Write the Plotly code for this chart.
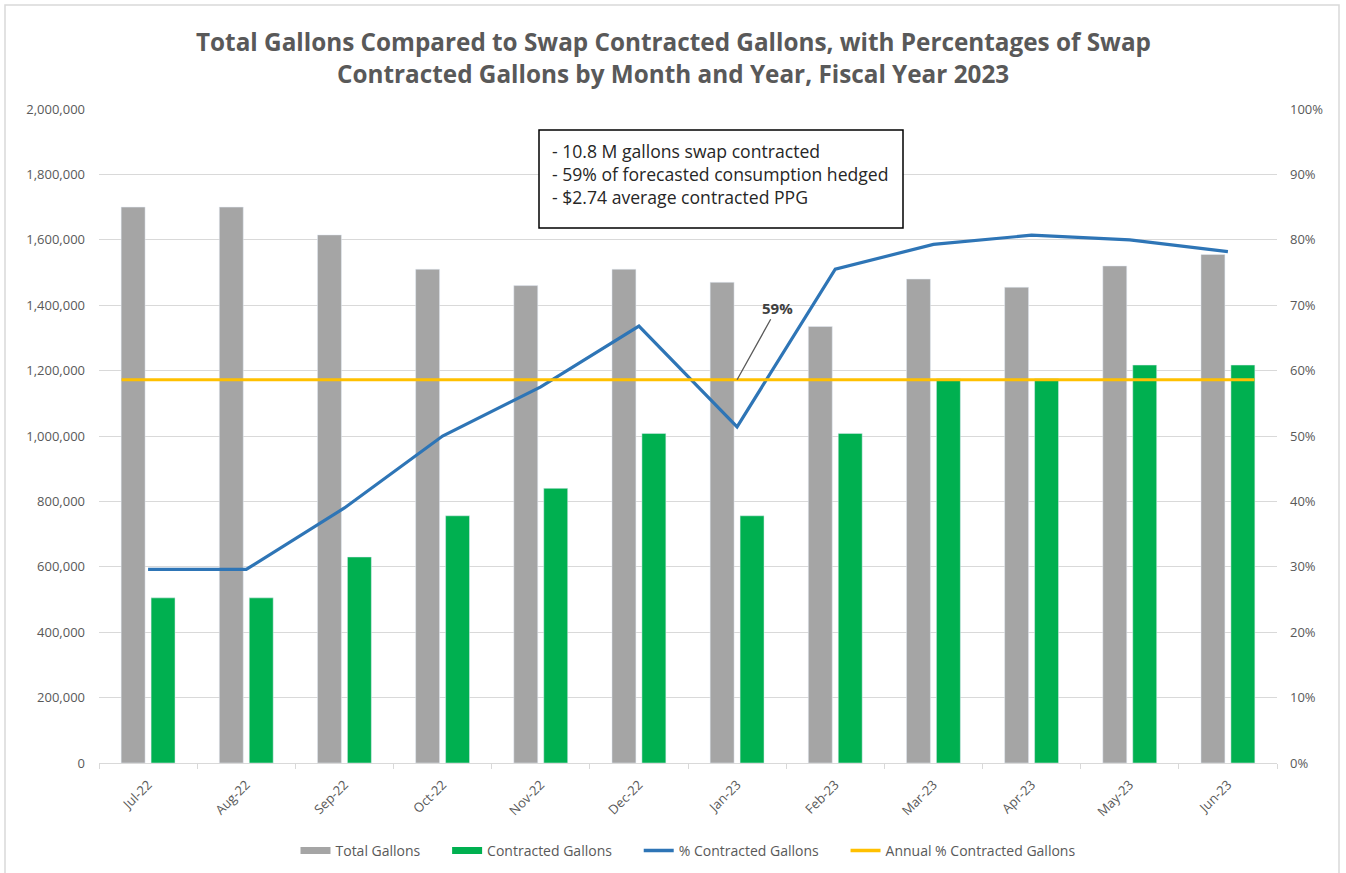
import plotly.graph_objects as go

months = ["Jul-22", "Aug-22", "Sep-22", "Oct-22", "Nov-22", "Dec-22",
          "Jan-23", "Feb-23", "Mar-23", "Apr-23", "May-23", "Jun-23"]
total_gallons = [1700000, 1700000, 1615000, 1510000, 1460000, 1510000,
                 1470000, 1335000, 1480000, 1455000, 1520000, 1555000]
contracted_gallons = [505000, 505000, 630000, 756000, 840000, 1008000,
                      756000, 1008000, 1175000, 1175000, 1217000, 1217000]
pct_contracted = [0.296, 0.296, 0.39, 0.50, 0.575, 0.668,
                  0.514, 0.755, 0.793, 0.807, 0.80, 0.782]
annual_pct = 0.586
annual_label = "59%"
box_lines = ["- 10.8 M gallons swap contracted",
             "- 59% of forecasted consumption hedged",
             "- $2.74 average contracted PPG"]
title_lines = ["Total Gallons Compared to Swap Contracted Gallons, with Percentages of Swap",
               "Contracted Gallons by Month and Year, Fiscal Year 2023"]
legend_names = ["Total Gallons", "Contracted Gallons", "% Contracted Gallons",
                "Annual % Contracted Gallons"]

FONT = "Open Sans"
TXT = "#595959"
GRID = "#d9d9d9"
GRAY = "#a5a5a5"
GREEN = "#00b050"
BLUE = "#2e75b6"
YELLOW = "#ffc000"

PL, PR, PT, PB = 99, 1277, 109, 763
PW, PH = PR - PL, PB - PT


def px(x):
    return (x - PL) / PW


def py(y):
    return (PB - y) / PH


fig = go.Figure()
fig.add_trace(go.Bar(x=months, y=total_gallons, name=legend_names[0],
                     marker_color=GRAY, yaxis="y", showlegend=False))
fig.add_trace(go.Bar(x=months, y=contracted_gallons, name=legend_names[1],
                     marker_color=GREEN, yaxis="y", showlegend=False))
fig.add_trace(go.Scatter(x=months, y=pct_contracted, name=legend_names[2],
                         mode="lines", line=dict(color=BLUE, width=3.2), yaxis="y2",
                         showlegend=False))
ext = 0.27
fig.add_trace(go.Scatter(x=[0 - ext, len(months) - 1 + ext], y=[annual_pct, annual_pct],
                         name=legend_names[3], mode="lines",
                         line=dict(color=YELLOW, width=3.2), xaxis="x3", yaxis="y2",
                         showlegend=False))

# legend entries (Excel-like wide swatches)
pad = "\u00a0" * 6
for i, (name, color, w) in enumerate(zip(legend_names, [GRAY, GREEN, BLUE, YELLOW],
                                         [7, 7, 3.5, 3.5])):
    fig.add_trace(go.Scatter(x=[None], y=[None], mode="lines",
                             name=name + (pad if i < len(legend_names) - 1 else ""),
                             line=dict(color=color, width=w), xaxis="x3", yaxis="y2"))

fig.update_layout(
    width=1346, height=873,
    margin=dict(l=PL, r=1346 - PR, t=PT, b=873 - PB, autoexpand=False),
    paper_bgcolor="white", plot_bgcolor="white",
    font=dict(family=FONT, color=TXT, size=13),
    barmode="group", bargap=0.39, bargroupgap=0.2,
    showlegend=True,
    legend=dict(orientation="h", x=0.5, xanchor="center", y=py(851), yanchor="middle",
                font=dict(size=14, color=TXT), itemwidth=30, traceorder="normal",
                tracegroupgap=0),
    xaxis=dict(type="category", showline=True, linecolor=GRID, linewidth=1,
               ticks="outside", tickson="boundaries", tickcolor=GRID, ticklen=5,
               tickangle=-45, tickfont=dict(size=13, color=TXT), showgrid=False,
               ticklabelstandoff=8),
    xaxis3=dict(overlaying="x", range=[-0.5, len(months) - 0.5], visible=False),
    yaxis=dict(range=[0, 2000000], dtick=200000, tickformat=",d", showgrid=True,
               gridcolor=GRID, gridwidth=1, zeroline=False, showline=False,
               ticks="", ticklabelstandoff=13, tickfont=dict(size=13, color=TXT)),
    yaxis2=dict(range=[0, 1], dtick=0.1, tickformat=".0%", overlaying="y", side="right",
                showgrid=False, zeroline=False, showline=False, ticks="",
                ticklabelstandoff=12, tickfont=dict(size=13, color=TXT)),
)

# title
for line, yc in zip(title_lines, [41, 73]):
    fig.add_annotation(xref="paper", yref="paper", x=px(673), y=py(yc),
                       xanchor="center", yanchor="middle", showarrow=False, text=line,
                       font=dict(family=FONT, size=24.3, color=TXT, weight="bold"))

# info box
fig.add_shape(type="rect", xref="paper", yref="paper", x0=px(539), x1=px(903),
              y0=py(228), y1=py(130), line=dict(color="#000000", width=1.5),
              fillcolor="white", layer="above")
for line, yc in zip(box_lines, [151, 174, 197]):
    fig.add_annotation(xref="paper", yref="paper", x=px(550), y=py(yc),
                       xanchor="left", yanchor="middle", showarrow=False, text=line,
                       font=dict(family=FONT, size=17.6, color="#262626"))

# 59% callout
fig.add_annotation(x=months[6], y=annual_pct, xref="x", yref="y2", text=annual_label,
                   showarrow=True, arrowhead=0, arrowwidth=1.3, arrowcolor="#595959",
                   ax=40, ay=-72, xanchor="center",
                   font=dict(family=FONT, size=15, color="#404040", weight="bold"))

# outer frame
fig.add_shape(type="rect", xref="paper", yref="paper", x0=px(5), x1=px(1339),
              y0=py(880), y1=py(5), line=dict(color="#d9d9d9", width=1.5))

fig.write_html("out.html")
